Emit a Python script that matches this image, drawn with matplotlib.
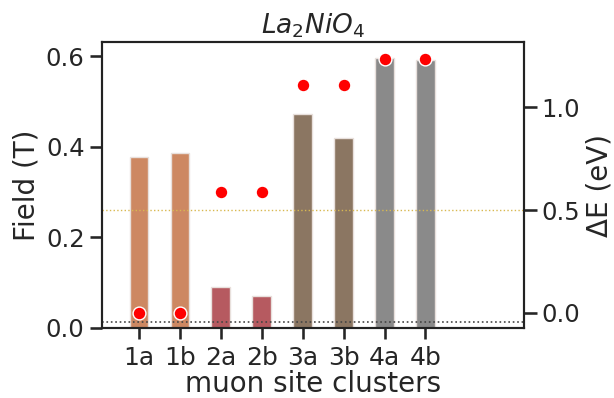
import numpy as np
import matplotlib.pyplot as plt
import seaborn as sns

sns.set_theme(style="ticks", context="talk")

sites = ["1a", "1b", "2a", "2b", "3a", "3b", "4a", "4b"]
field = [0.378, 0.387, 0.091, 0.071, 0.473, 0.420, 0.595, 0.591]
delta_e = [0.0, 0.0, 0.587, 0.587, 1.108, 1.108, 1.234, 1.234]
colors = ["#cd8862", "#cd8862", "#b65a60", "#b65a60",
          "#8b7662", "#8b7662", "#8a8a8a", "#8a8a8a"]

fig, ax = plt.subplots(figsize=(6.14, 3.98), dpi=100)
x = np.arange(len(sites))

ax.bar(x, field, width=0.45, color=colors, edgecolor="#e8e0dc", linewidth=1)
ax.axhline(0.013, color="#444444", linestyle=":", linewidth=1.2)
ax.set_xticks(x)
ax.set_xticklabels(sites, fontsize=18)
ax.set_xlim(-0.9, 9.4)
ax.set_ylim(0, 0.631)
ax.set_yticks([0.0, 0.2, 0.4, 0.6])
ax.tick_params(axis="y", labelsize=17.5)
ax.tick_params(axis="x", length=8, pad=5)
ax.set_ylabel("Field (T)", fontsize=20)
ax.set_xlabel("muon site clusters", fontsize=20, labelpad=0)
ax.set_title("$La_2NiO_4$", fontsize=19)

ax2 = ax.twinx()
ax2.scatter(x, delta_e, s=85, color="red", edgecolor="white", linewidth=1, zorder=5)
ax2.axhline(0.5, color="#d8b850", linestyle=":", linewidth=1)
ax2.set_ylim(-0.073, 1.316)
ax2.set_yticks([0.0, 0.5, 1.0])
ax2.tick_params(axis="y", labelsize=17.5)
ax2.set_ylabel("ΔE (eV)", fontsize=20)

for a in (ax, ax2):
    for s in a.spines.values():
        s.set_linewidth(1.5)
        s.set_color("#222222")

fig.subplots_adjust(left=0.166, right=0.853, bottom=0.176, top=0.894)
fig.savefig("out.png", dpi=100)
